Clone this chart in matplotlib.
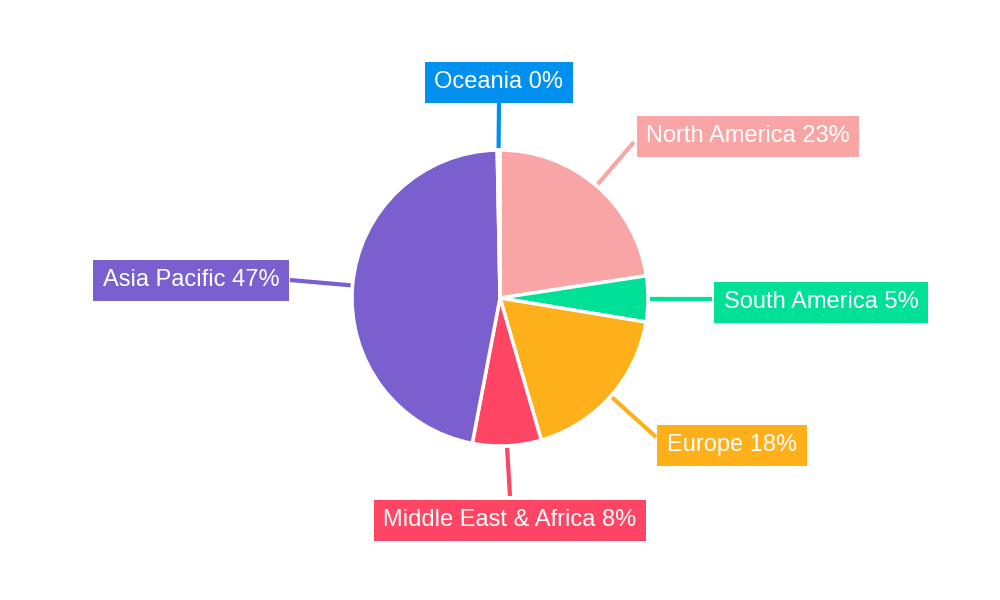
import numpy as np
import matplotlib
matplotlib.use("Agg")
import matplotlib.pyplot as plt

regions = ["North America", "South America", "Europe", "Middle East & Africa", "Asia Pacific", "Oceania"]
values = [22.6, 5.0, 17.9, 7.5, 46.7, 0.3]
labels = ["North America 23%", "South America 5%", "Europe 18%", "Middle East & Africa 8%", "Asia Pacific 47%", "Oceania 0%"]
colors = ["#F9A5A6", "#00E096", "#FDB01A", "#FF4564", "#7A5FCF", "#0090F0"]
label_pos = [(748, 134), (821, 300), (732, 443), (510, 518), (191, 278), (499, 80)]
line_end = [(634, 142), (712, 299), (656, 437), (510, 496), (290, 280), (499, 102)]

plt.rcParams['font.family'] = ['Liberation Sans', 'DejaVu Sans']
fig = plt.figure(figsize=(10, 6), dpi=100)
ax = fig.add_axes([0, 0, 1, 1])
cx, cy, r = 500, 302, 148
wedges, _ = ax.pie(values, colors=colors, startangle=90, counterclock=False,
                   center=(cx, cy), radius=r, frame=True,
                   wedgeprops=dict(edgecolor='white', linewidth=2.5))
ax.set_xlim(0, 1000); ax.set_ylim(0, 600); ax.axis('off')
ax.set_aspect('equal')
for w, lab, col, (lx, ly), (ex, ey) in zip(wedges, labels, colors, label_pos, line_end):
    a = np.deg2rad((w.theta1 + w.theta2) / 2)
    sx, sy = cx + (r + 2) * np.cos(a), cy + (r + 2) * np.sin(a)
    ax.plot([sx, ex], [sy, 600 - ey], color=col, lw=3, solid_capstyle='butt')
    ax.text(lx, 600 - ly, lab, color='white', fontsize=17, ha='center', va='center_baseline',
            bbox=dict(boxstyle='square,pad=0.4', fc=col, ec='none'))
fig.savefig("out.png", dpi=100)
